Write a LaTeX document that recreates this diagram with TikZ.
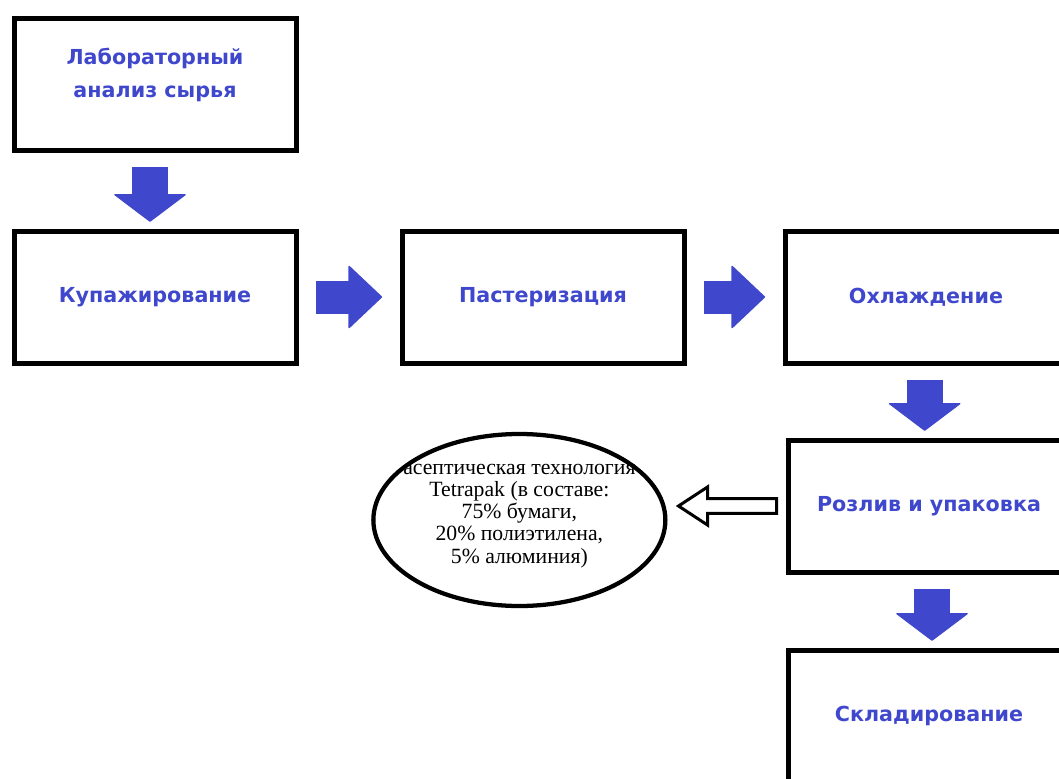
\documentclass[tikz,border=0pt]{standalone}
\usepackage{fontspec}
\setmainfont{Liberation Serif}
\newfontfamily\stagefont{DejaVu Sans}
\usetikzlibrary{positioning,shapes.geometric,arrows.meta,calc}
\definecolor{paintblue}{RGB}{63,72,204}

\begin{document}
\begin{tikzpicture}[every stage/.style={draw,line width=3.75pt,minimum width=211.5pt,minimum height=99pt,inner sep=0pt,
                        text=paintblue,align=center,font=\stagefont\bfseries\fontsize{15.5pt}{24.75pt}\selectfont},
                    downflow/.style={paintblue,line width=27pt,shorten <=10.5pt,shorten >=5pt,
                        -{Triangle[length=21pt,width=55.5pt,line width=1pt,round]}},
                    rightflow/.style={paintblue,line width=24.75pt,shorten <=13pt,shorten >=13pt,
                        -{Triangle[length=25.5pt,width=48pt,line width=1pt,round]}},
                    hollowarrow/.style={draw=black,fill=white,line width=2.25pt,line join=miter}]
			\useasboundingbox (0,0) rectangle (794.25pt,-583.5pt);

			\node[every stage] at (116.25pt,-63pt)                 (LabAnalysis)    {};
			\node[every stage,below=57pt of LabAnalysis]           (Blending)       {Купажирование};
			\node[every stage,right=75.75pt of Blending]           (Pasteurization) {Пастеризация};
			\node[every stage,right=72pt of Pasteurization]        (Cooling)        {Охлаждение};
			\node[every stage,below=54pt of Cooling,xshift=2.25pt] (Bottling)       {Розлив и упаковка};
			\node[every stage,below=54.75pt of Bottling]           (Storage)        {Складирование};
			\node[ellipse,draw,line width=3.2pt,minimum width=219pt,minimum height=129pt,
			      left=88.5pt of Bottling,yshift=-10.5pt]          (Tetrapak)       {};

			% texts placed off centre
			\node[text=paintblue,align=center,font=\stagefont\bfseries\fontsize{15.5pt}{24.75pt}\selectfont]
			      at ([yshift=6.75pt]LabAnalysis.center) (LabText) {Лабораторный\\анализ сырья};
			\node[align=center,font=\fontsize{16.3pt}{16.6pt}\selectfont]
			      at ([yshift=3pt]Tetrapak.center) (TetrapakText)
			      {асептическая технология\\Tetrapak (в составе:\\75\% бумаги,\\20\% полиэтилена,\\5\% алюминия)};

			\draw[downflow]  ([xshift=-3.75pt]LabAnalysis.south) -- ([xshift=-3.75pt]Blending.north);
			\draw[rightflow] (Blending)       -- (Pasteurization);
			\draw[rightflow] (Pasteurization) -- (Cooling);
			\draw[downflow]  ([xshift=-1pt]Cooling.south) -- ([xshift=-1pt]Cooling.south |- Bottling.north);
			\draw[downflow]  ([xshift=2.25pt]Bottling.south) -- ([xshift=2.25pt]Storage.north);

			\coordinate (Tip) at ($(Tetrapak.east |- Bottling.west)+(8.25pt,0)$);
			\draw[hollowarrow] (Tip) -- ++(21.75pt,14.25pt) -- ++(0,-8.65pt)
			      -- ($(Bottling.west)+(-6.75pt,5.6pt)$) -- ++(0,-11.2pt)
			      -- ($(Tip)+(21.75pt,-5.6pt)$) -- ++(0,-8.65pt) -- cycle;
		\end{tikzpicture}
\end{document}
